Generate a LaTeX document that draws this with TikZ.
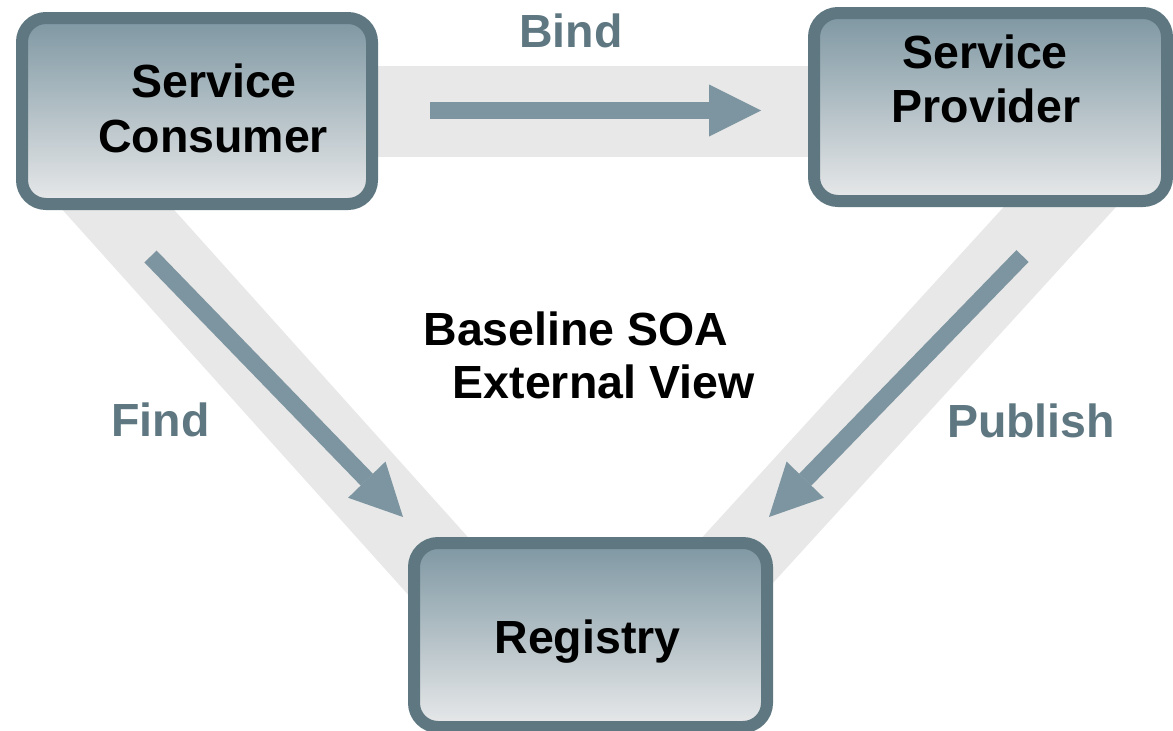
\documentclass[tikz,border=0pt]{standalone}
\usepackage{fontspec}
\setmainfont{Liberation Sans}
\usetikzlibrary{arrows.meta}
\definecolor{boxborder}{HTML}{5E7780}
\definecolor{boxtop}{HTML}{7E97A2}
\definecolor{boxbot}{HTML}{E8E9EA}
\definecolor{arrowcol}{HTML}{7C95A0}
\definecolor{labelcol}{HTML}{5E7781}
\definecolor{bandcol}{HTML}{E8E8E8}
\begin{document}
\begin{tikzpicture}[x=1pt,y=-1pt,
  box/.style={draw=boxborder, line width=12pt, rounded corners=24pt,
    top color=boxtop, bottom color=boxbot, inner sep=0pt, shape=rectangle},
  bandline/.style={draw=bandcol, line cap=butt},
  flow/.style={draw=arrowcol, line width=17pt, line cap=butt,
    -{Triangle[length=52pt,width=52pt,line width=0pt]}},
  txt/.style={font=\fontsize{46.5}{55}\selectfont\bfseries, inner sep=0pt, anchor=base},
  lab/.style={txt, text=labelcol}]
\useasboundingbox (0,0) rectangle (1173,731);
% band end points
\coordinate (bh1) at (370,111.5);
\coordinate (bh2) at (815,111.5);
\coordinate (bl1) at (78.4,165.4);
\coordinate (bl2) at (486.6,620);
\coordinate (br1) at (1093.6,170);
\coordinate (br2) at (683,620);
\draw[bandline, line width=91pt] (bh1) -- (bh2);
\draw[bandline, line width=83pt] (bl1) -- (bl2);
\draw[bandline, line width=83pt] (br1) -- (br2);
% boxes
\node[box, minimum width=350pt, minimum height=186pt] (cons) at (197,111) {};
\node[box, minimum width=353pt, minimum height=188pt] (prov) at (990.5,107) {};
\node[box, minimum width=353pt, minimum height=184pt] (reg) at (590.5,635) {};
% arrows
\coordinate (bindS) at (430,110.5);
\coordinate (bindE) at (761,110.5);
\coordinate (findS) at (150.5,256.5);
\coordinate (findE) at (403,517);
\coordinate (pubS) at (1022.5,256);
\coordinate (pubE) at (769,517);
\draw[flow] (bindS) -- (bindE);
\draw[flow] (findS) -- (findE);
\draw[flow] (pubS) -- (pubE);
% texts
\node[txt] (t1) at (214,97) {Service};
\node[txt] (t2) at (213,152) {Consumer};
\node[txt] (t3) at (985,68) {Service};
\node[txt] (t4) at (986,122) {Provider};
\node[txt] (t5) at (587.5,653) {Registry};
\node[txt] (t6) at (576,345) {Baseline SOA};
\node[txt] (t7) at (603.5,398) {External View};
\node[lab] (l1) at (571,47) {Bind};
\node[lab] (l2) at (160.5,436) {Find};
\node[lab] (l3) at (1031,437) {Publish};
\end{tikzpicture}
\end{document}
